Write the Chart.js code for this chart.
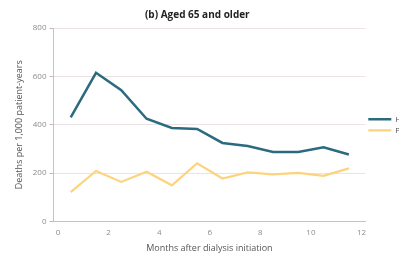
<!DOCTYPE html>
<html>
<head>
<meta charset="utf-8">
<script src="https://cdn.jsdelivr.net/npm/chart.js@4.4.0/dist/chart.umd.min.js"></script>
<style>
  html, body { margin: 0; padding: 0; background: #fff; overflow: hidden; }
  #wrap { width: 399px; height: 257px; overflow: hidden; }
  #chart { display: block; }
</style>
</head>
<body>
<div id="wrap"><canvas id="chart" width="417" height="257"></canvas></div>
<script>
// months after dialysis start (mid-month points)
var months = [0.5, 1.5, 2.5, 3.5, 4.5, 5.5, 6.5, 7.5, 8.5, 9.5, 10.5, 11.5];
var hdRates = [431, 615, 543, 425, 387, 383, 325, 312, 288, 288, 307, 277];
var pdRates = [122, 209, 164, 206, 150, 241, 178, 203, 195, 201, 189, 220];
var xTicks = [0, 2, 4, 6, 8, 10, 12];
var yTicks = [0, 200, 400, 600, 800];

function toPoints(ys) {
  return months.map(function(m, i) { return { x: m, y: ys[i] }; });
}

var gray = '#8c8c8c';
var ctx = document.getElementById('chart');

// trailing spaces nudge the centred title a little left, like the original
var titleText = '(b) Aged 65 and older' + '\u00A0'.repeat(14);

new Chart(ctx, {
  type: 'line',
  data: {
    datasets: [{
      label: 'HD',
      data: toPoints(hdRates),
      borderColor: '#2b6a7f',
      backgroundColor: '#2b6a7f',
      borderWidth: 2.5,
      pointRadius: 0,
      tension: 0
    }, {
      label: 'PD',
      data: toPoints(pdRates),
      borderColor: '#fdd37c',
      backgroundColor: '#fdd37c',
      borderWidth: 2.2,
      pointRadius: 0,
      tension: 0
    }]
  },
  options: {
    responsive: false,
    animation: false,
    layout: { padding: { left: 14, right: 0, top: 0, bottom: 3 } },
    plugins: {
      title: {
        display: true,
        text: titleText,
        color: '#222',
        font: { family: 'Open Sans', size: 10, weight: 'bold' },
        padding: { top: 9, bottom: 7 }
      },
      legend: {
        position: 'right',
        align: 'center',
        fullSize: false,
        labels: {
          usePointStyle: true,
          pointStyle: 'line',
          pointStyleWidth: 23,
          boxHeight: 8,
          padding: 3,
          color: '#555',
          font: { family: 'Open Sans', size: 8 }
        }
      },
      tooltip: { enabled: false }
    },
    scales: {
      x: {
        type: 'linear',
        min: -0.18,
        max: 12.15,
        afterBuildTicks: function(axis) {
          axis.ticks = xTicks.map(function(v) { return { value: v }; });
        },
        grid: { display: false, drawOnChartArea: false, drawTicks: true, tickLength: 4, tickColor: '#bbb' },
        border: { color: '#c4c4c4', width: 1 },
        ticks: { color: gray, font: { family: 'Open Sans', size: 8 }, padding: 2 },
        title: {
          display: true,
          text: 'Months after dialysis initiation',
          color: '#555',
          font: { family: 'Open Sans', size: 9 },
          padding: { top: 4, bottom: 0 }
        }
      },
      y: {
        min: 0,
        max: 800,
        afterBuildTicks: function(axis) {
          axis.ticks = yTicks.map(function(v) { return { value: v }; });
        },
        grid: { color: '#ebe3e3', lineWidth: 1, tickLength: 4, tickColor: '#bbb' },
        border: { color: '#c4c4c4', width: 1 },
        ticks: { color: gray, font: { family: 'Open Sans', size: 8 }, padding: 3 },
        title: {
          display: true,
          text: 'Deaths per 1,000 patient-years',
          color: '#555',
          font: { family: 'Open Sans', size: 9 },
          padding: { top: 0, bottom: 5 }
        }
      }
    }
  }
});
</script>
</body>
</html>
